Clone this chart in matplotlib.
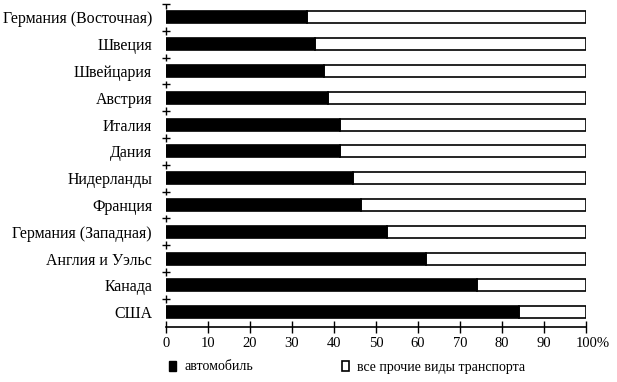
import matplotlib
matplotlib.use("Agg")
import matplotlib.pyplot as plt
import matplotlib.transforms as mtransforms
from matplotlib.patches import Patch
import numpy as np

plt.rcParams['font.family'] = ['Liberation Serif', 'DejaVu Serif']

countries = ["Германия (Восточная)", "Швеция", "Швейцария", "Австрия", "Италия",
             "Дания", "Нидерланды", "Франция", "Германия (Западная)",
             "Англия и Уэльс", "Канада", "США"]
car_share = [33.5, 35.5, 37.5, 38.5, 41.5, 41.5, 44.5, 46.5, 52.5, 62, 74, 84]
total = 100
xticks = [0, 10, 20, 30, 40, 50, 60, 70, 80, 90, 100]
xticklabels = ["0", "10", "20", "30", "40", "50", "60", "70", "80", "90", "100%"]
legend_labels = ["автомобиль", "все прочие виды транспорта"]

fig = plt.figure(figsize=(6.17, 3.82), dpi=100)
ax = fig.add_axes([166/617, 55/382, 420/617, 323/382])

n = len(countries)
y = np.arange(n)[::-1]
car = np.array(car_share)
other = total - car

ax.barh(y, other, left=car, height=0.45, color="white", edgecolor="black", linewidth=1.2)
ax.barh(y, car, height=0.45, color="black", edgecolor="black", linewidth=1.2)

ax.set_xlim(0, 100)
ax.set_ylim(-0.55, n - 0.5)
ax.set_yticks(y)
ax.set_yticklabels(countries, fontsize=11.4)
ax.tick_params(axis='y', length=0, pad=10)

# boundary marks on the y axis
bounds = np.arange(n) + 0.5
ax.set_yticks(bounds, minor=True)
ax.tick_params(axis='y', which='minor', length=6, width=1, direction='inout', color='black')
ax.vlines(np.zeros(n - 1), bounds[:-1] - 0.14, bounds[:-1] + 0.14, color='black', lw=1, clip_on=False)
ax.vlines([0], [bounds[-1] - 0.2], [bounds[-1]], color='black', lw=1, clip_on=False)

for s in ['top', 'right', 'left']:
    ax.spines[s].set_visible(False)
ax.spines['bottom'].set_linewidth(1.2)

ax.set_xticks(xticks)
ax.set_xticklabels(xticklabels, fontsize=10.5)
ax.tick_params(axis='x', direction='inout', length=8, width=1, pad=3)
lab = ax.get_xticklabels()[-1]
lab.set_transform(lab.get_transform() + mtransforms.ScaledTranslation(7/100, 0, fig.dpi_scale_trans))

handles = [Patch(facecolor='black', edgecolor='black', linewidth=1),
           Patch(facecolor='white', edgecolor='black', linewidth=1.2)]
fig.legend(handles, legend_labels, loc='center left', bbox_to_anchor=(169/617, 15/382),
           ncol=2, frameon=False, fontsize=10, handlelength=0.5, handleheight=0.7,
           handletextpad=0.6, columnspacing=6.4, borderpad=0, borderaxespad=0)

fig.savefig("out.png", dpi=100, facecolor="white")
